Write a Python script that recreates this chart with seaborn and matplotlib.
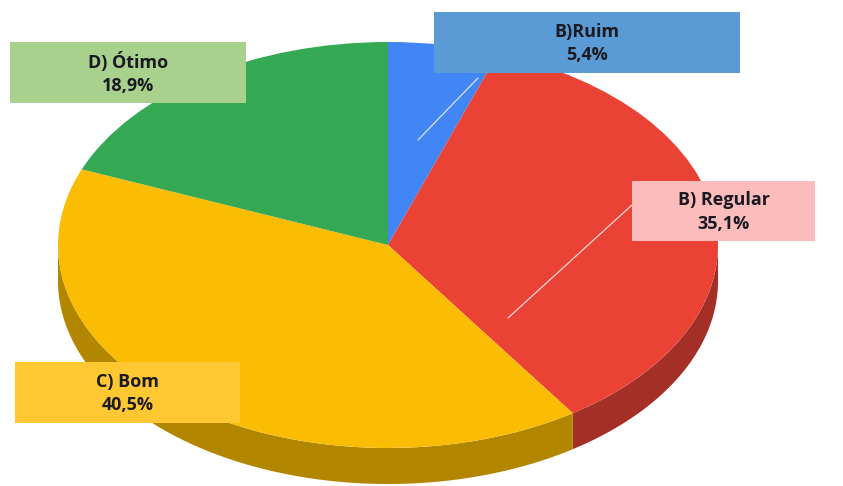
import numpy as np
import matplotlib
matplotlib.use("Agg")
import matplotlib.pyplot as plt
from matplotlib.patches import Rectangle
import seaborn as sns

# Avaliação das respostas (percentuais)
categorias = ["B)Ruim", "B) Regular", "C) Bom", "D) Ótimo"]
percentuais = [5.4, 35.1, 40.5, 18.9]
rotulos = ["5,4%", "35,1%", "40,5%", "18,9%"]

cores_topo = sns.color_palette(["#4285f4", "#ea4335", "#fbbc04", "#34a853"])
cores_lado = sns.color_palette(["#2e5daa", "#a32f26", "#b38600", "#247539"])
cores_caixa = ["#5b9bd5", "#fcbcbc", "#ffc832", "#a9d18e"]

sns.set_theme(style="white")
plt.rcParams["font.family"] = ["Open Sans", "DejaVu Sans"]

W, H = 843, 486
fig = plt.figure(figsize=(W / 100, H / 100), dpi=100)
ax = fig.add_axes([0, 0, 1, 1])

# pixel geometry of the tilted pie: centre and semi-axes of the top face
CX, CY, RX, RY = 388, 245, 330, 203
DEPTH = 36 / RY  # height of the side wall in data units


def px(x, y):
    """Pixel position -> data position."""
    return (x - CX) / RX, (CY - y) / RY


wedges, _ = ax.pie(percentuais, colors=cores_topo, startangle=90,
                   counterclock=False, radius=1,
                   wedgeprops=dict(linewidth=0, zorder=3))

# visible side wall (front half of the cylinder)
for w, cor in zip(wedges, cores_lado):
    t1, t2 = w.theta1 % 360, w.theta2 % 360
    if t2 <= t1:
        t2 += 360
    for off in (0, 360):
        a = max(t1, 180 + off)
        b = min(t2, 360 + off)
        if b > a:
            t = np.radians(np.linspace(a, b, 120))
            xs = np.concatenate([np.cos(t), np.cos(t[::-1])])
            ys = np.concatenate([np.sin(t), np.sin(t[::-1]) - DEPTH])
            ax.fill(xs, ys, color=cor, linewidth=0, zorder=2)

x0, y0 = px(0, H)
x1, y1 = px(W, 0)
ax.set_xlim(x0, x1)
ax.set_ylim(y0, y1)
ax.set_aspect("auto")
ax.axis("off")

# leader lines (pixel endpoints: slice point -> label box)
linhas = [((418, 140), (478, 78)),
          ((508, 318), (632, 205)),
          ((218, 402), (238, 372))]
for (a, b) in linhas:
    pa, pb = px(*a), px(*b)
    ax.plot([pa[0], pb[0]], [pa[1], pb[1]], color="#f4f4f4", lw=0.9,
            alpha=0.85, zorder=4)

# label boxes: (left, top, right, bottom) in pixels
caixas = [(434, 12, 740, 73), (632, 181, 815, 241),
          (15, 362, 240, 423), (10, 42, 246, 103)]
for nome, rot, cor, (l, t, r, b) in zip(categorias, rotulos, cores_caixa, caixas):
    fig.add_artist(Rectangle((l / W, 1 - b / H), (r - l) / W, (b - t) / H,
                             transform=fig.transFigure, facecolor=cor,
                             edgecolor="none", zorder=5))
    fig.text((l + r) / 2 / W, 1 - ((t + b) / 2 + 1) / H, f"{nome}\n{rot}",
             ha="center", va="center", fontsize=13, fontweight="bold",
             color="#1a1a22", linespacing=1.4, zorder=6)

fig.savefig("out.png", dpi=100, facecolor="white")
